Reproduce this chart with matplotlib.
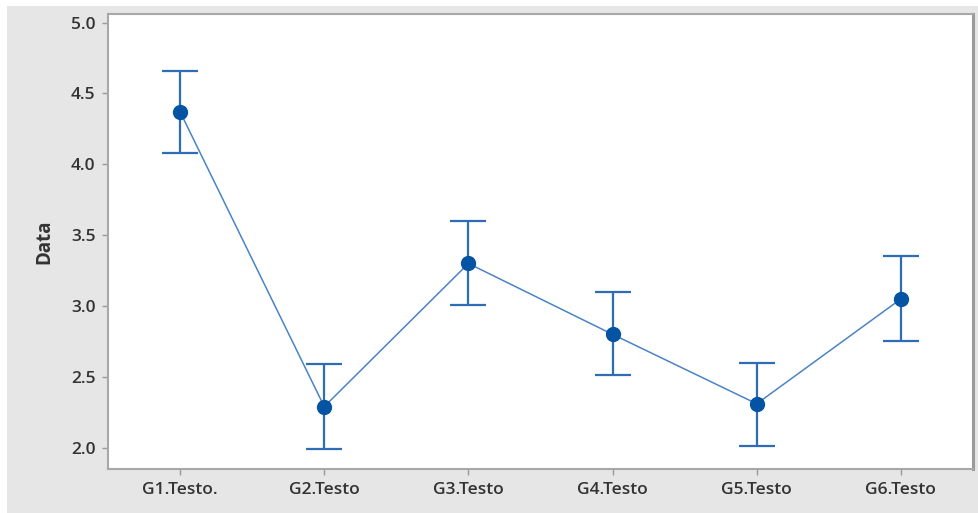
import matplotlib
matplotlib.use("Agg")
import matplotlib.pyplot as plt
from matplotlib.patches import Rectangle

groups = ["G1.Testo.", "G2.Testo", "G3.Testo", "G4.Testo", "G5.Testo", "G6.Testo"]
means = [4.37, 2.29, 3.30, 2.80, 2.31, 3.05]
upper = [4.66, 2.59, 3.60, 3.10, 2.60, 3.35]
lower = [4.08, 1.99, 3.01, 2.51, 2.01, 2.75]
yticks = [2.0, 2.5, 3.0, 3.5, 4.0, 4.5, 5.0]

plt.rcParams["font.family"] = ["Open Sans", "DejaVu Sans"]

fig = plt.figure(figsize=(9.79, 5.13), dpi=100, facecolor="#e6e6e6")
# thin white margin along the top and left edges
fig.add_artist(Rectangle((0, 1 - 6 / 513), 1, 6 / 513, transform=fig.transFigure,
                         facecolor="white", edgecolor="none"))
fig.add_artist(Rectangle((0, 0), 7 / 979, 1, transform=fig.transFigure,
                         facecolor="white", edgecolor="none"))

ax = fig.add_axes([108 / 979, 44 / 513, 865 / 979, 455 / 513])
ax.set_facecolor("white")

x = list(range(len(groups)))
err_lo = [m - l for m, l in zip(means, lower)]
err_hi = [u - m for m, u in zip(means, upper)]

ax.plot(x, means, color="#4a84c6", lw=1.1, zorder=2)
ax.errorbar(x, means, yerr=[err_lo, err_hi], fmt="none", ecolor="#2d6db5",
            elinewidth=1.6, capsize=13, capthick=1.6, zorder=3)
ax.plot(x, means, "o", color="#0553a3", ms=10, zorder=4)

ax.set_xlim(-0.5, 5.5)
ax.set_ylim(1.85, 5.06)
ax.set_xticks(x)
ax.set_xticklabels(groups)
ax.set_yticks(yticks)
ax.set_yticklabels([f"{t:.1f}" for t in yticks])

for lab in ax.get_xticklabels() + ax.get_yticklabels():
    lab.set_fontsize(12.5)
    lab.set_fontweight("semibold")
    lab.set_color("#333333")
ax.tick_params(axis="both", length=4, width=1, color="#999999", pad=5)

ax.set_ylabel("Data", fontsize=13.5, fontweight="bold", color="#333333", labelpad=12)

for side in ax.spines.values():
    side.set_color("#a8a8a8")
    side.set_linewidth(1.5)
ax.spines["right"].set_linewidth(2.2)
ax.spines["right"].set_color("#9a9a9a")

fig.savefig("out.png", dpi=100, facecolor=fig.get_facecolor())
